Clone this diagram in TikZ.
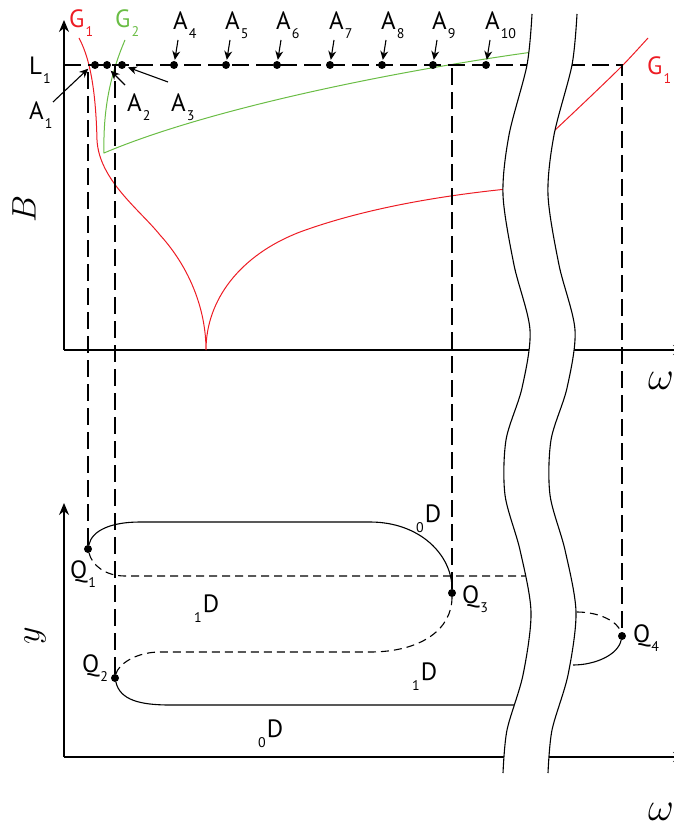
\RequirePackage{fix-cm}
\documentclass[tikz,border=0pt]{standalone}
\usepackage{fontspec}
\setsansfont{PT Sans}
\usetikzlibrary{arrows.meta,calc}

\definecolor{gone}{RGB}{237,28,36}
\definecolor{gtwo}{RGB}{106,189,69}

% letter with its index set low and small after it, or before it
\newcommand{\lab}[2]{#1\kern1pt\raisebox{-9pt}{\fontsize{14}{14}\selectfont #2}}
\newcommand{\prelab}[2]{\raisebox{-10pt}{\fontsize{14}{14}\selectfont #1}\kern1pt#2}

% one edge of the cut through both planes, top to bottom
\newcommand{\bandedge}{plot[smooth] coordinates{(532,14) (527,65) (509,135)
  (503,195) (514,265) (530,330) (522,388) (506,440) (505,495) (520,550)
  (531,612) (523,675) (507,730) (503,773)}}

\begin{document}
\begin{tikzpicture}[
  x=1pt, y=-1pt,
  every node/.append style={font=\sffamily\fontsize{25}{30}\selectfont, inner sep=0pt},
  axis/.style={draw, line width=1.2pt, -{Stealth[length=12pt,width=10pt]}},
  guide/.style={draw, line width=1.1pt, dash pattern=on 17pt off 7pt},
  rim/.style={draw, line width=1.1pt},
  face/.style={draw, line width=1.1pt},
  hidden/.style={draw, line width=1.1pt, dash pattern=on 8pt off 5pt},
  curve/.style={draw, line width=1pt},
  pointer/.style={draw, line width=1.1pt, shorten >=1pt, -{Stealth[length=9pt,width=8pt]}},
  spot/.style={circle, fill, minimum size=8pt, inner sep=0pt},
  lbl/.style={anchor=base west},
  varlabel/.style={font=\fontsize{34}{34}\selectfont},
  omlabel/.style={font=\fontsize{40}{40}\selectfont},
]
\useasboundingbox (0,0) rectangle (673,829);

% ------------------------------------------------------------ upper plane
\draw[axis] (64,350) -- (64,20);
\draw[axis] (64,350) -- (685,350);
\node[varlabel, rotate=90] (blab) at (24,209) {$B$};
\node[omlabel] (wup) at (661,381) {$\omega$};

\coordinate (l1) at (64,65);
\node[lbl] (l1lab) at (29,75) {\lab{L}{1}};

% the two branches, drawn first so the dots sit on top of them
\draw[curve, gone] (79,38) .. controls (92,62) and (96,100) .. (97,140)
  .. controls (99,180) and (140,210) .. (160,235)
  .. controls (190,268) and (206,310) .. (206,350)
  .. controls (206,300) and (240,255) .. (300,232)
  .. controls (360,210) and (440,194) .. (540,186);
\draw[curve, gone] plot[smooth] coordinates{(553,132) (590,97) (623,65) (648,38)};
\draw[curve, gtwo] (125,40) .. controls (110,75) and (103,110) .. (104,153)
  .. controls (210,108) and (400,70) .. (540,51);

\node[lbl, text=gone] (g1a) at (69,28) {\lab{G}{1}};
\node[lbl, text=gtwo] (g2a) at (115,28) {\lab{G}{2}};
\node[lbl, text=gtwo] (g2b) at (535,53) {\lab{G}{2}};
\node[lbl, text=gone] (g1b) at (647,75) {\lab{G}{1}};

% ------------------------------------------------------------ lower plane
\draw[axis] (64,757) -- (64,503);
\draw[axis] (64,757) -- (685,757);
\node[varlabel, rotate=90] (ylab) at (35,636) {$y$};
\node[omlabel] (wlow) at (661,812) {$\omega$};

\node[spot] (q1) at (88,549) {};
\node[spot] (q2) at (115,678) {};
\node[spot] (q3) at (452,593) {};
\node[spot] (q4) at (622,636) {};
\node[lbl] (q1lab) at (70,578) {\lab{Q}{1}};
\node[lbl] (q2lab) at (82,672) {\lab{Q}{2}};
\node[lbl] (q3lab) at (462,603) {\lab{Q}{3}};
\node[lbl] (q4lab) at (633,642) {\lab{Q}{4}};

% outer strip: seen edges solid, hidden ones dashed
\draw[face] (q1) .. controls (92,530) and (112,522) .. (140,522) -- (370,522)
  .. controls (420,522) and (452,555) .. (q3);
\draw[hidden] (q1) .. controls (92,565) and (105,576) .. (125,576) -- (540,576);
\draw[hidden] (q3) .. controls (452,630) and (420,652) .. (370,652) -- (160,652)
  .. controls (135,652) and (118,665) .. (q2);
\draw[face] (q2) .. controls (120,700) and (140,705) .. (170,705) -- (540,705);
\draw[hidden] (577,612) .. controls (600,612) and (618,622) .. (q4);
\draw[face] (q4) .. controls (618,655) and (595,665) .. (573,665);

\node[lbl] (d0a) at (416,522) {\prelab{0}{D}};
\node[lbl] (d1a) at (194,612) {\prelab{1}{D}};
\node[lbl] (d1b) at (412,680) {\prelab{1}{D}};
\node[lbl] (d0b) at (258,737) {\prelab{0}{D}};

% ------------------------------------------------------------ guide lines
\draw[guide] (l1) -- (q4 |- l1) -- (q4);
\draw[guide] (q1) -- (q1 |- l1);
\draw[guide] (q2) -- (q2 |- l1);
\draw[guide] (q3) -- (q3 |- l1);

% ------------------------------------------------------------ the points
\foreach \i/\x in {1/95, 2/107, 3/122, 4/174, 5/226, 6/277, 7/330,
                   8/382, 9/433, 10/486}{
  \node[spot] (p\i) at (\x,65) {};
}
\foreach \i in {4,...,10}{
  \node[lbl] (a\i) at ($(p\i)+(-1,-35)$) {\lab{A}{\i}};
  \draw[pointer] ($(p\i)+(4,-25)$) -- (p\i);
}
% the first three are named from below, where there is room
\coordinate (t1) at (89,68);
\coordinate (t2) at (110,70);
\coordinate (t3) at (127,67);
\node[lbl] (a1) at (29,120) {\lab{A}{1}};
\node[lbl] (a2) at (127,112) {\lab{A}{2}};
\node[lbl] (a3) at (171,112) {\lab{A}{3}};
\draw[pointer] (53,102) -- (t1);
\draw[pointer] (125,85) -- (t2);
\draw[pointer] (168,82) -- (t3);

% ------------------------------------------------------------ the cut
\begin{scope}
  \clip \bandedge -- (720,773) -- (720,14) -- cycle;
  \fill[white, xshift=45pt] \bandedge -- (-100,773) -- (-100,14) -- cycle;
\end{scope}
\draw[rim] \bandedge;
\draw[rim, xshift=45pt] \bandedge;

\end{tikzpicture}
\end{document}
